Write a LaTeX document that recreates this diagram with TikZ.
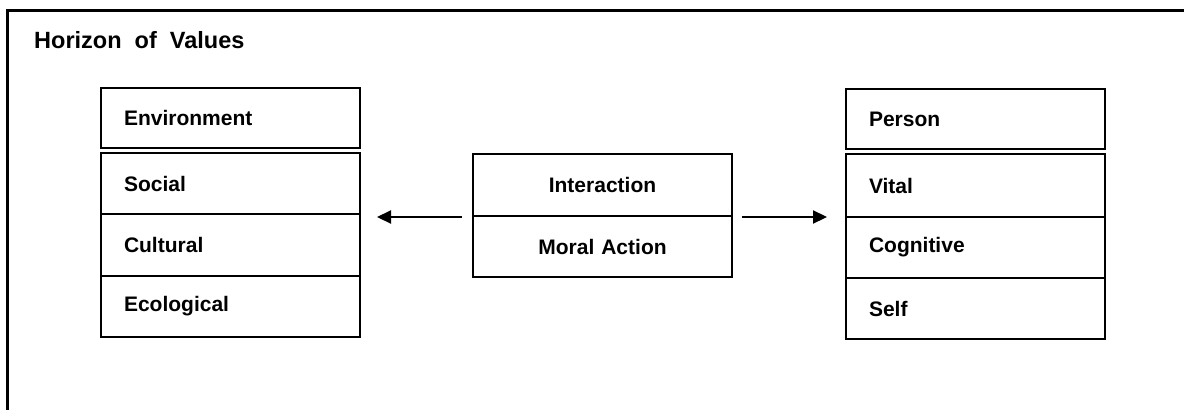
\documentclass[tikz,border=0pt]{standalone}
\usepackage{fontspec}
\setmainfont{Liberation Sans}
\usetikzlibrary{arrows.meta}
\newcommand{\rowfont}{\fontsize{21}{24}\selectfont\bfseries}
\newcommand{\titlefont}{\fontsize{23.5}{28}\selectfont\bfseries}
\tikzset{
  row/.style={draw, line width=2pt, text width=213pt, inner xsep=23pt, inner ysep=0pt, align=left, anchor=north west, font=\rowfont},
  mrow/.style={draw, line width=2pt, text width=239pt, inner xsep=10pt, inner ysep=0pt, align=center, anchor=north west, font=\rowfont},
  arr/.style={line width=2.2pt, -{Triangle[length=14pt,width=13pt]}},
  frame/.style={line width=3pt}
}
\begin{document}
\begin{tikzpicture}[x=1pt,y=-1pt]
\useasboundingbox (0,0) rectangle (1184,410);
\fill[white] (0,0) rectangle (1184,410);
\draw[frame] (7,410) -- (7,10) -- (1184,10);
\node[anchor=base west, font=\titlefont, inner sep=0pt] (title) at (34,48) {Horizon\ \ of\ \ Values};
% left box
\node[row, minimum height=60pt] (env) at (100,87) {Environment};
\node[row, minimum height=61pt] (soc) at (100,152) {Social};
\node[row, minimum height=62pt] (cul) at (100,213) {Cultural};
\node[row, minimum height=61pt] (eco) at (100,275) {Ecological};
% right box
\node[row, minimum height=60pt] (per) at (845,88) {Person};
\node[row, minimum height=63pt] (vit) at (845,153) {Vital};
\node[row, minimum height=61pt] (cog) at (845,216) {Cognitive};
\node[row, minimum height=61pt] (sel) at (845,277) {Self};
% middle box
\node[mrow, minimum height=62pt] (int) at (472,153) {Interaction};
\node[mrow, minimum height=61pt] (mor) at (472,215) {Moral Action};
% arrows
\draw[arr, shorten <=10pt, shorten >=16pt] (int.south west) -- (int.south west -| soc.east);
\draw[arr, shorten <=9pt, shorten >=18pt] (int.south east) -- (int.south east -| vit.west);
\end{tikzpicture}
\end{document}
